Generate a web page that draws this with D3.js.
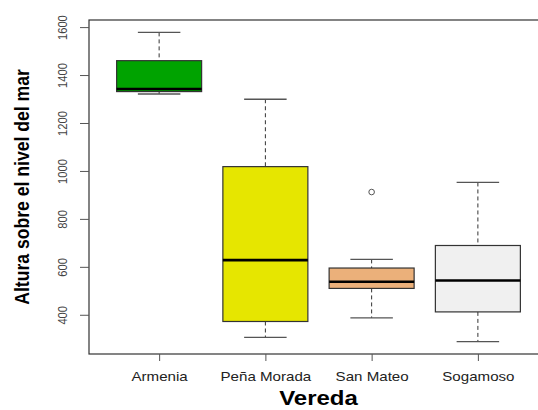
<!DOCTYPE html>
<html>
<head>
<meta charset="utf-8">
<script src="https://cdn.jsdelivr.net/npm/d3@7"></script>
<style>
  body { margin: 0; background: #fff; }
  text { font-family: "Liberation Sans", Arial, sans-serif; }
</style>
</head>
<body>
<div id="chart-area"></div>
<script>
// values
var veredas = ["Armenia", "Peña Morada", "San Mateo", "Sogamoso"];
var whiskerLow = [1321, 306, 387, 288];
var q1 = [1331, 372, 510, 412];
var medians = [1342, 628, 538, 543];
var q3 = [1460, 1018, 595, 689];
var whiskerHigh = [1578, 1299, 631, 952];
var outliers = [[], [], [912], []];
var fills = ["#00a300", "#e6e600", "#ebb07a", "#f0f0f0"];
var yTicks = [400, 600, 800, 1000, 1200, 1400, 1600];

var width = 538, height = 410;
var margin = { left: 89, right: -10, top: 20, bottom: 56 };
var stretch = 1.2; // reference text looks widened horizontally

var svg = d3.select("#chart-area")
  .append("svg")
  .attr("width", width)
  .attr("height", height);

var boxes = veredas.map(function (v, i) {
  return { name: v, pos: i + 1, lo: whiskerLow[i], q1: q1[i], med: medians[i],
    q3: q3[i], hi: whiskerHigh[i], out: outliers[i], fill: fills[i] };
});

// Scales (R style: 4% padding)
var allVals = whiskerLow.concat(whiskerHigh, d3.merge(outliers));
var ext = d3.extent(allVals);
var pad = (ext[1] - ext[0]) * 0.04;
var y = d3.scaleLinear()
  .domain([ext[0] - pad, ext[1] + pad])
  .range([height - margin.bottom, margin.top]);
var x = d3.scaleLinear()
  .domain([0.5 - 0.16, veredas.length + 0.5 + 0.16])
  .range([margin.left, width - margin.right]);

// Boxes
var g = svg.append("g");
var b = g.selectAll("g.box").data(boxes).enter().append("g").attr("class", "box");

// whiskers (dashed)
b.append("line")
  .attr("x1", function (d) { return x(d.pos); })
  .attr("x2", function (d) { return x(d.pos); })
  .attr("y1", function (d) { return y(d.hi); })
  .attr("y2", function (d) { return y(d.q3); })
  .attr("stroke", "#333").attr("stroke-dasharray", "4,3");
b.append("line")
  .attr("x1", function (d) { return x(d.pos); })
  .attr("x2", function (d) { return x(d.pos); })
  .attr("y1", function (d) { return y(d.q1); })
  .attr("y2", function (d) { return y(d.lo); })
  .attr("stroke", "#333").attr("stroke-dasharray", "4,3");

// caps
["hi", "lo"].forEach(function (k) {
  b.append("line")
    .attr("x1", function (d) { return x(d.pos - 0.2); })
    .attr("x2", function (d) { return x(d.pos + 0.2); })
    .attr("y1", function (d) { return y(d[k]); })
    .attr("y2", function (d) { return y(d[k]); })
    .attr("stroke", "#555").attr("stroke-width", 1.3);
});

// box body
b.append("rect")
  .attr("x", function (d) { return x(d.pos - 0.4); })
  .attr("width", function (d) { return x(d.pos + 0.4) - x(d.pos - 0.4); })
  .attr("y", function (d) { return y(d.q3); })
  .attr("height", function (d) { return y(d.q1) - y(d.q3); })
  .attr("fill", function (d) { return d.fill; })
  .attr("stroke", "#333").attr("stroke-width", 1.2);

// median
b.append("line")
  .attr("x1", function (d) { return x(d.pos - 0.4); })
  .attr("x2", function (d) { return x(d.pos + 0.4); })
  .attr("y1", function (d) { return y(d.med); })
  .attr("y2", function (d) { return y(d.med); })
  .attr("stroke", "#000").attr("stroke-width", 2.6);

// outliers
b.selectAll("circle").data(function (d) {
  return d.out.map(function (o) { return { pos: d.pos, v: o }; });
}).enter().append("circle")
  .attr("cx", function (d) { return x(d.pos); })
  .attr("cy", function (d) { return y(d.v); })
  .attr("r", 2.8)
  .attr("fill", "none")
  .attr("stroke", "#555").attr("stroke-width", 1);

// Frame
svg.append("rect")
  .attr("x", x.range()[0]).attr("y", y.range()[1])
  .attr("width", x.range()[1] - x.range()[0])
  .attr("height", y.range()[0] - y.range()[1])
  .attr("fill", "none").attr("stroke", "#333").attr("stroke-width", 1.2);

// Y axis
var yAxis = svg.append("g")
  .attr("transform", "translate(" + margin.left + ",0)")
  .call(d3.axisLeft(y).tickValues(yTicks).tickSize(9).tickFormat(d3.format("d")));
yAxis.select(".domain").remove();
yAxis.selectAll(".tick line").attr("stroke", "#555");
yAxis.selectAll(".tick text")
  .attr("x", null).attr("dy", null)
  .attr("text-anchor", "middle")
  .attr("font-size", 11.2)
  .attr("fill", "#444")
  .attr("transform", "translate(-22,0) scale(" + stretch + ",1) rotate(-90)");

// X axis
var xAxis = svg.append("g")
  .attr("transform", "translate(0," + y.range()[0] + ")")
  .call(d3.axisBottom(x).tickValues(d3.range(1, veredas.length + 1)).tickSize(7)
    .tickFormat(function (d) { return veredas[d - 1]; }));
xAxis.select(".domain").remove();
xAxis.selectAll(".tick line").attr("stroke", "#555");
xAxis.selectAll(".tick text")
  .attr("y", null).attr("dy", null)
  .attr("font-size", 12.6)
  .attr("fill", "#222")
  .attr("transform", "translate(0,27) scale(" + stretch + ",1)");

// Titles
svg.append("text")
  .attr("transform", "translate(" + ((x.range()[0] + x.range()[1]) / 2) + ",405) scale(" + stretch + ",1)")
  .attr("text-anchor", "middle")
  .attr("font-size", 20)
  .attr("font-weight", "bold")
  .text("Vereda");

svg.append("text")
  .attr("transform", "translate(29," + ((y.range()[0] + y.range()[1]) / 2) + ") scale(" + stretch + ",1) rotate(-90)")
  .attr("text-anchor", "middle")
  .attr("font-size", 17.6)
  .attr("font-weight", "bold")
  .text("Altura sobre el nivel del mar");
</script>
</body>
</html>
